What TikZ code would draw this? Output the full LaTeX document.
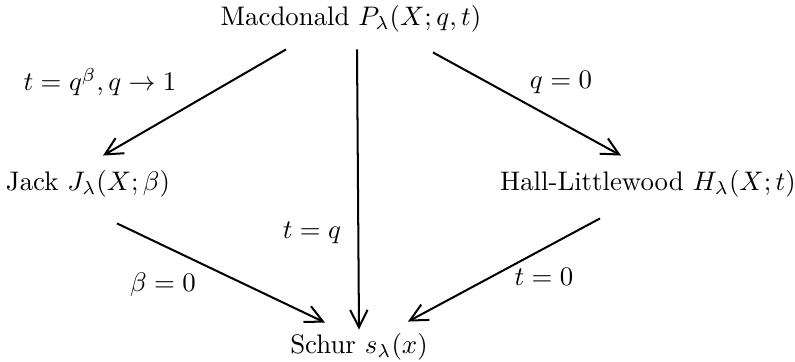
\documentclass[tikz,border=0pt]{standalone}
\usetikzlibrary{arrows.meta}
\begin{document}
\begin{tikzpicture}[x=0.373pt,y=-0.373pt,
  obj/.style={inner sep=0pt,font=\fontsize{10}{12}\selectfont},
  lab/.style={inner sep=0pt},
  arr/.style={line width=0.75pt,-{Straight Barb[length=6.5pt,width=6.5pt]}}]
\useasboundingbox (0,0) rectangle (795,362);
\node[obj] (mac) at (351,18.5) {Macdonald $P_\lambda(X;q,t)$};
\node[obj] (jack) at (88,183.5) {Jack $J_\lambda(X;\beta)$};
\node[obj] (hl) at (648,183.5) {Hall-Littlewood $H_\lambda(X;t)$};
\node[obj] (schur) at (359,346.5) {Schur $s_\lambda(x)$};
\draw[arr] ([shift={(-65,17)}]mac.south) -- ([shift={(15,-14)}]jack.north);
\draw[arr] ([shift={(6,17)}]mac.south) -- ([shift={(0,-3)}]schur.north);
\draw[arr] ([shift={(82,20)}]mac.south) -- ([shift={(-27,-14)}]hl.north);
\draw[arr] ([shift={(29,26)}]jack.south) -- ([shift={(-34,-10)}]schur.north);
\draw[arr] ([shift={(-48,21)}]hl.south) -- ([shift={(49,-11)}]schur.north);
\node[lab] (l1) at (100,82) {$t=q^\beta, q\to 1$};
\node[lab] (l2) at (561,82) {$q=0$};
\node[lab] (l3) at (312,233) {$t=q$};
\node[lab] (l4) at (163,285) {$\beta=0$};
\node[lab] (l5) at (544,277) {$t=0$};
\end{tikzpicture}
\end{document}
